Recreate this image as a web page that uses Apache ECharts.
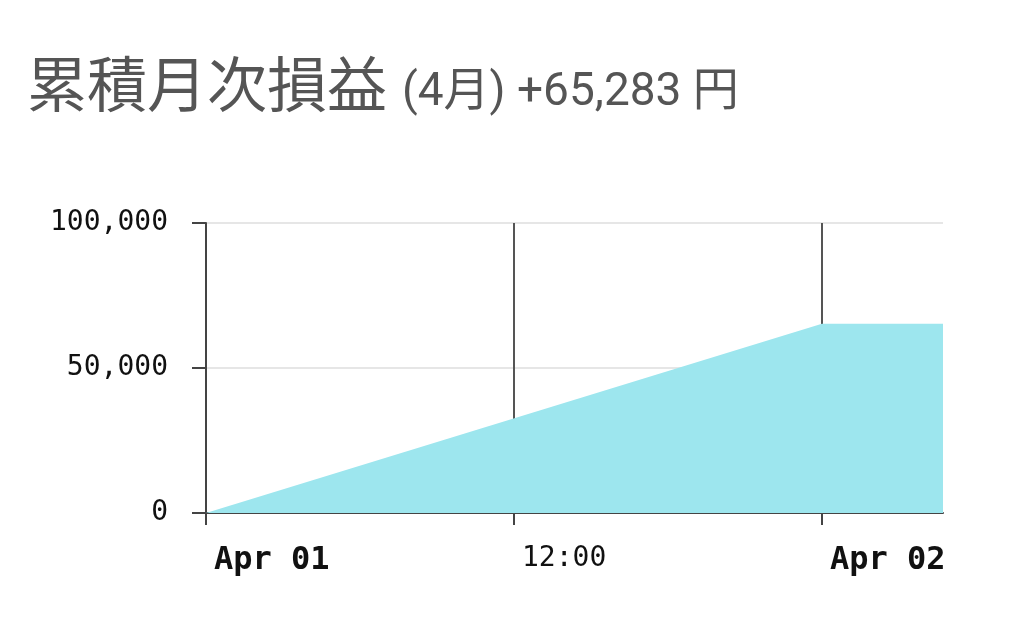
<!DOCTYPE html>
<html>
<head>
<meta charset="utf-8">
<script src="https://cdn.jsdelivr.net/npm/echarts@6/dist/echarts.min.js"></script>
<style>
html,body{margin:0;padding:0;background:#fff;}
#main{width:1024px;height:633px;}
</style>
</head>
<body>
<div id="main"></div>
<script>
// ---- data ----
const titleMain = '累積月次損益';
const titleSub = '(4月) +65,283 円';
const times = ['2024-04-01T00:00:00Z', '2024-04-02T00:00:00Z', '2024-04-02T04:43:00Z'];
const pnl = [0, 65283, 65283];
const xTickHours = [0, 12, 24];
const xTickLabels = ['Apr 01', '12:00', 'Apr 02'];
const xTickBold = [true, false, true];
const yTicks = [0, 50000, 100000];

const t0 = Date.parse(times[0]);
const hours = times.map(t => (Date.parse(t) - t0) / 3600000);
const seriesData = hours.map((h, i) => [h, pnl[i]]);

const chart = echarts.init(document.getElementById('main'));
const mono = 'DejaVu Sans Mono, monospace';
chart.setOption({
  backgroundColor: '#fff',
  animation: false,
  title: [
    {
      text: titleMain, left: 22, top: 49,
      textStyle: { fontFamily: 'Noto Sans CJK JP', fontSize: 60, fontWeight: 'normal', color: '#555' }
    },
    {
      text: titleSub, left: 397, top: 65,
      textStyle: { fontFamily: 'Roboto, Noto Sans CJK JP', fontSize: 46, fontWeight: 'normal', color: '#555' }
    }
  ],
  grid: { left: 206, right: 81, top: 223, bottom: 120, containLabel: false },
  xAxis: {
    type: 'value',
    min: hours[0],
    max: hours[hours.length - 1],
    interval: 12,
    axisLine: { show: true, lineStyle: { color: '#444', width: 2 } },
    axisTick: { show: true, length: 12, customValues: xTickHours, lineStyle: { color: '#444', width: 2 } },
    axisLabel: {
      customValues: xTickHours,
      hideOverlap: false,
      align: 'left',
      margin: 32,
      padding: [0, 0, 0, 8],
      fontFamily: mono, fontSize: 28, color: '#111',
      formatter: function (v) {
        const i = xTickHours.indexOf(Math.round(v));
        if (i < 0) return '';
        return xTickBold[i] ? '{b|' + xTickLabels[i] + '}' : xTickLabels[i];
      },
      rich: { b: { fontFamily: mono, fontSize: 32, fontWeight: 'bold', color: '#111' } }
    },
    splitLine: { show: true, lineStyle: { color: ['#555', '#555', '#555', 'rgba(0,0,0,0)'], width: 2 } }
  },
  yAxis: {
    type: 'value',
    min: yTicks[0],
    max: yTicks[yTicks.length - 1],
    interval: yTicks[1] - yTicks[0],
    axisLine: { show: true, lineStyle: { color: '#444', width: 2 } },
    axisTick: { show: true, length: 14, lineStyle: { color: '#444', width: 2 } },
    axisLabel: {
      margin: 38, fontFamily: mono, fontSize: 28, color: '#111',
      padding: [6, 0, 0, 0],
      formatter: v => v.toLocaleString('en-US')
    },
    splitLine: { show: true, lineStyle: { color: '#e6e6e6', width: 2 } }
  },
  series: [{
    type: 'line',
    data: seriesData,
    showSymbol: false,
    symbol: 'none',
    lineStyle: { width: 0, color: '#9de6ee' },
    itemStyle: { color: '#9de6ee' },
    areaStyle: { color: '#9de6ee', opacity: 1 }
  }]
});
</script>
</body>
</html>
